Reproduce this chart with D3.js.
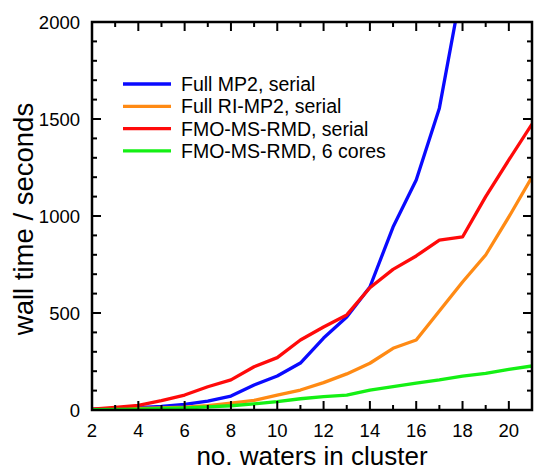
<!DOCTYPE html>
<html>
<head>
<meta charset="utf-8">
<script src="https://cdn.jsdelivr.net/npm/d3@7"></script>
<style>
  body { margin: 0; background: #fff; }
  text { font-family: "Liberation Sans", Arial, sans-serif; fill: #000; }
</style>
</head>
<body>
<div id="chart"></div>
<script>
// cluster sizes (no. of waters)
var waters = [2, 3, 4, 5, 6, 7, 8, 9, 10, 11, 12, 13, 14, 15, 16, 17, 18, 19, 20, 21];

var fullMP2 = [5, 8, 12, 18, 29, 46, 72, 129, 175, 242, 371, 479, 634, 943, 1186, 1556, 2200];
var fullRIMP2 = [3, 5, 8, 11, 15, 22, 35, 50, 77, 103, 141, 186, 241, 318, 361, 510, 660, 799, 995, 1201];
var fmoSerial = [5, 14, 24, 48, 77, 120, 155, 223, 270, 361, 428, 490, 630, 725, 794, 876, 892, 1100, 1289, 1474];
var fmo6 = [2, 3, 5, 8, 11, 16, 22, 32, 43, 58, 69, 77, 103, 120, 138, 155, 175, 189, 210, 227];

var seriesNames = ['Full MP2, serial', 'Full RI-MP2, serial', 'FMO-MS-RMD, serial', 'FMO-MS-RMD, 6 cores'];
var seriesColors = ['#0a0aff', '#ff8a14', '#ff0a0a', '#14f014'];
var seriesValues = [fullMP2, fullRIMP2, fmoSerial, fmo6];

var xTicks = [2, 4, 6, 8, 10, 12, 14, 16, 18, 20];
var yTicks = [0, 500, 1000, 1500, 2000];

var margin = {top: 22, right: 2, bottom: 60, left: 92};
var width = 534 - margin.left - margin.right,
  height = 470 - margin.top - margin.bottom;

var svg = d3.select('#chart').append('svg')
  .attr('width', 534)
  .attr('height', 470);

var g = svg.append('g')
  .attr('transform', 'translate(' + margin.left + ',' + margin.top + ')');

var x = d3.scaleLinear().domain([2, 21]).range([0, width]);
var y = d3.scaleLinear().domain([0, 2000]).range([height, 0]);

g.append('clipPath').attr('id', 'clip')
  .append('rect').attr('width', width).attr('height', height);

// lines
var line = d3.line()
  .x(function(d) { return x(d.n); })
  .y(function(d) { return y(d.v); });

seriesValues.forEach(function(vals, i) {
  var pts = vals.map(function(v, j) { return {n: waters[j], v: v}; });
  g.append('path')
    .datum(pts)
    .attr('clip-path', 'url(#clip)')
    .attr('fill', 'none')
    .attr('stroke', seriesColors[i])
    .attr('stroke-width', 3.3)
    .attr('stroke-linejoin', 'round')
    .attr('d', line);
});

// ticks, drawn inward on all four sides
var minorX = d3.range(3, 21, 2);
var minorY = d3.range(100, 2000, 100).filter(function(v) { return v % 500 != 0; });
var tickStroke = 2;

function tickLines(vals, len, horiz) {
  vals.forEach(function(v) {
    if (horiz) {
      g.append('line').attr('x1', x(v)).attr('x2', x(v)).attr('y1', height).attr('y2', height - len)
        .attr('stroke', '#000').attr('stroke-width', tickStroke);
      g.append('line').attr('x1', x(v)).attr('x2', x(v)).attr('y1', 0).attr('y2', len)
        .attr('stroke', '#000').attr('stroke-width', tickStroke);
    } else {
      g.append('line').attr('x1', 0).attr('x2', len).attr('y1', y(v)).attr('y2', y(v))
        .attr('stroke', '#000').attr('stroke-width', tickStroke);
      g.append('line').attr('x1', width).attr('x2', width - len).attr('y1', y(v)).attr('y2', y(v))
        .attr('stroke', '#000').attr('stroke-width', tickStroke);
    }
  });
}
tickLines(xTicks, 9, true);
tickLines(minorX, 5, true);
tickLines(yTicks, 9, false);
tickLines(minorY, 5, false);

// frame
g.append('rect')
  .attr('width', width).attr('height', height)
  .attr('fill', 'none').attr('stroke', '#000').attr('stroke-width', 2.5);

// tick labels
g.selectAll('.xl').data(xTicks).enter().append('text')
  .attr('x', function(d) { return x(d); })
  .attr('y', height + 27)
  .attr('text-anchor', 'middle')
  .style('font-size', '18.5px')
  .text(function(d) { return d; });

g.selectAll('.yl').data(yTicks).enter().append('text')
  .attr('x', -12)
  .attr('y', function(d) { return y(d) + 6.5; })
  .attr('text-anchor', 'end')
  .style('font-size', '18.5px')
  .text(function(d) { return d; });

// axis titles
svg.append('text')
  .attr('x', margin.left + width / 2)
  .attr('y', 465)
  .attr('text-anchor', 'middle')
  .style('font-size', '26px')
  .text('no. waters in cluster');

svg.append('text')
  .attr('transform', 'translate(33,' + 219 + ') rotate(-90)')
  .attr('text-anchor', 'middle')
  .style('font-size', '27.5px')
  .text('wall time / seconds');

// legend
var legend = svg.selectAll('.leg').data(seriesNames).enter().append('g')
  .attr('transform', function(d, i) { return 'translate(123,' + (84 + i * 22.3) + ')'; });

legend.append('line')
  .attr('x1', 0).attr('x2', 48)
  .attr('stroke', function(d, i) { return seriesColors[i]; })
  .attr('stroke-width', 3.3);

legend.append('text')
  .attr('x', 58).attr('y', 7)
  .style('font-size', '19.5px')
  .text(function(d) { return d; });
</script>
</body>
</html>
